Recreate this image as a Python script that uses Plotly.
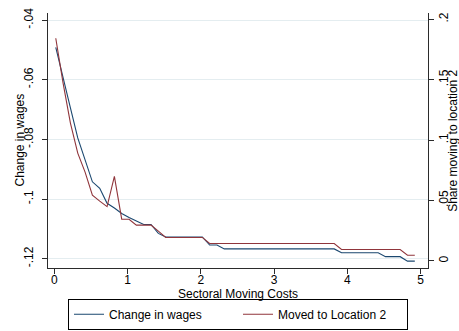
import plotly.graph_objects as go

# x grid: sectoral moving costs
moving_costs = [round(0.02 + 0.1 * k, 2) for k in range(50)]

change_in_wages = [
    -0.0491, -0.0597, -0.0694, -0.0795, -0.0869, -0.0942, -0.0964, -0.1014, -0.1030, -0.1048,
    -0.1062, -0.1073, -0.1085, -0.1085, -0.1115, -0.1127, -0.1127, -0.1127, -0.1127, -0.1127,
    -0.1127, -0.1154, -0.1154, -0.1167, -0.1167, -0.1167, -0.1167, -0.1167, -0.1167, -0.1167,
    -0.1167, -0.1167, -0.1167, -0.1167, -0.1167, -0.1167, -0.1167, -0.1167, -0.1167, -0.1180,
    -0.1180, -0.1180, -0.1180, -0.1180, -0.1180, -0.1193, -0.1193, -0.1193, -0.1208, -0.1208,
]

moved_to_location2 = [
    0.1843, 0.1472, 0.1141, 0.0892, 0.0735, 0.0544, 0.0495, 0.0449, 0.0700, 0.0345,
    0.0345, 0.0296, 0.0296, 0.0296, 0.0246, 0.0194, 0.0194, 0.0194, 0.0194, 0.0194,
    0.0194, 0.0144, 0.0144, 0.0144, 0.0144, 0.0144, 0.0144, 0.0144, 0.0144, 0.0144,
    0.0144, 0.0144, 0.0144, 0.0144, 0.0144, 0.0144, 0.0144, 0.0144, 0.0144, 0.0094,
    0.0094, 0.0094, 0.0094, 0.0094, 0.0094, 0.0094, 0.0094, 0.0094, 0.0047, 0.0047,
]

x_tickvals = [0, 1, 2, 3, 4, 5]
x_ticktext = ["0", "1", "2", "3", "4", "5"]
y1_tickvals = [-0.04, -0.06, -0.08, -0.10, -0.12]
y1_ticktext = ["-.04", "-.06", "-.08", "-.1", "-.12"]
y2_tickvals = [0.2, 0.15, 0.1, 0.05, 0.0]
y2_ticktext = [".2", ".15", ".1", ".05", "0"]

x_title = "Sectoral Moving Costs"
y1_title = "Change in wages"
y2_title = "Share moving to location 2"

FONT = "Arial, Liberation Sans, sans-serif"
AXIS_COLOR = "#2b2b2b"
BLUE = "#1a476f"
RED = "#90353b"

fig = go.Figure()
fig.add_trace(go.Scatter(
    x=moving_costs, y=change_in_wages, mode="lines", name="Change in wages",
    line=dict(color=BLUE, width=1.1), yaxis="y",
))
fig.add_trace(go.Scatter(
    x=moving_costs, y=moved_to_location2, mode="lines", name="Moved to Location 2",
    line=dict(color=RED, width=1.1), yaxis="y2",
))

axis_common = dict(
    showline=True, linecolor=AXIS_COLOR, linewidth=1,
    ticks="outside", ticklen=5, tickcolor=AXIS_COLOR, tickwidth=1,
    tickfont=dict(family=FONT, size=12, color="#000"),
    zeroline=False, automargin=False,
)

fig.update_layout(
    width=459, height=331,
    margin=dict(l=48, r=31, t=13, b=63, autoexpand=False),
    paper_bgcolor="white", plot_bgcolor="white",
    font=dict(family=FONT, size=12, color="#000"),
    xaxis=dict(
        range=[-0.086, 5.1], tickvals=x_tickvals, ticktext=x_ticktext,
        showgrid=False, ticklabelstandoff=-4, **axis_common,
    ),
    yaxis=dict(
        range=[-0.1231, -0.0376], tickvals=y1_tickvals, ticktext=y1_ticktext,
        tickangle=-90, showgrid=True, gridcolor="#e4edf0", gridwidth=1,
        ticklabelstandoff=4, **axis_common,
    ),
    yaxis2=dict(
        range=[-0.0059, 0.2052], tickvals=y2_tickvals, ticktext=y2_ticktext,
        tickangle=-90, showgrid=False, overlaying="y", side="right",
        ticklabelstandoff=0, **axis_common,
    ),
    legend=dict(
        orientation="h", x=0.5, xanchor="center",
        yref="container", y=0.004, yanchor="bottom",
        bordercolor="#000", borderwidth=1, bgcolor="white",
        font=dict(family=FONT, size=12), entrywidth=124, entrywidthmode="pixels",
    ),
    showlegend=True,
    annotations=[
        dict(text=x_title, xref="paper", yref="paper", x=0.5, y=-0.102,
             xanchor="center", yanchor="middle", showarrow=False,
             font=dict(family=FONT, size=12, color="#000")),
        dict(text=y1_title, xref="paper", yref="paper", x=-0.0763, y=0.5,
             xanchor="center", yanchor="middle", textangle=-90, showarrow=False,
             font=dict(family=FONT, size=12, color="#000")),
        dict(text=y2_title, xref="paper", yref="paper", x=1.064, y=0.5,
             xanchor="center", yanchor="middle", textangle=-90, showarrow=False,
             font=dict(family=FONT, size=12, color="#000")),
    ],
)

fig.write_html("out.html")
